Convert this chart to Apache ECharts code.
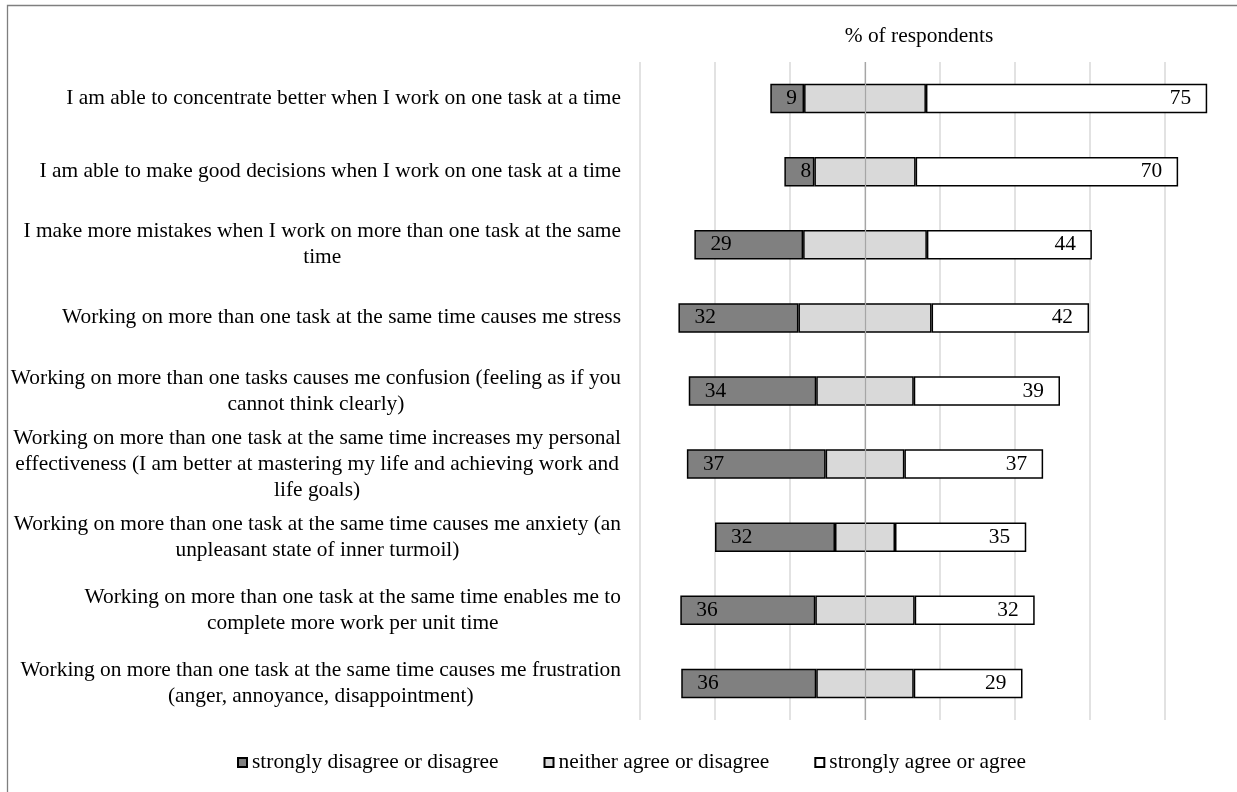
<!DOCTYPE html>
<html>
<head>
<meta charset="utf-8">
<script src="https://cdn.jsdelivr.net/npm/echarts@6/dist/echarts.min.js"></script>
<style>
html,body{margin:0;padding:0;background:#fff;}
#chart{width:1237px;height:792px;}
</style>
</head>
<body>
<div id="chart"></div>
<script>
const categories = [
  "I am able to concentrate better when I work on one task at a time",
  "I am able to make good decisions when I work on one task at a time",
  "I make more mistakes when I work on more than one task at the same\ntime",
  "Working on more than one task at the same time causes me stress",
  "Working on more than one tasks causes me confusion (feeling as if you\ncannot think clearly)",
  "Working on more than one task at the same time increases my personal\neffectiveness (I am better at mastering my life and achieving work and\nlife goals)",
  "Working on more than one task at the same time causes me anxiety (an\nunpleasant state of inner turmoil)",
  "Working on more than one task at the same time enables me to\ncomplete more work per unit time",
  "Working on more than one task at the same time causes me frustration\n(anger, annoyance, disappointment)"
];
const disagree = [9, 8, 29, 32, 34, 37, 32, 36, 36];
const neutral = [32.5, 27, 33, 35.5, 26, 21, 16, 26.5, 26];
const agree = [75, 70, 44, 42, 39, 37, 35, 32, 29];
const seriesNames = ["strongly disagree or disagree", "neither agree or disagree", "strongly agree or agree"];
const axisTitle = "% of respondents";

const FONT = "'Liberation Serif', 'Times New Roman', serif";
const FS = 21.4;

// invisible offset so that the neutral segment is centred on zero
const offset = disagree.map((d, i) => -(d + neutral[i] / 2));

const chart = echarts.init(document.getElementById('chart'));
const barW = 29.5;
const border = { borderColor: '#000', borderWidth: 1.5 };

chart.setOption({
  backgroundColor: '#fff',
  animation: false,
  textStyle: { fontFamily: FONT, color: '#000' },
  title: {
    text: axisTitle,
    left: 919,
    top: 26,
    textAlign: 'center',
    padding: 0,
    textStyle: { fontFamily: FONT, fontSize: FS, fontWeight: 'normal', color: '#000' }
  },
  graphic: [{
    type: 'rect',
    silent: true,
    shape: { x: 7.5, y: 5.5, width: 1400, height: 1000 },
    style: { fill: 'none', stroke: '#7f7f7f', lineWidth: 1.3 }
  }],
  legend: {
    data: seriesNames,
    left: 237,
    top: 752,
    padding: 0,
    itemWidth: 9,
    itemHeight: 9,
    itemGap: 45,
    icon: 'rect',
    textStyle: { fontFamily: FONT, fontSize: FS, color: '#000' }
  },
  grid: { left: 640, right: 72, top: 62, bottom: 72, containLabel: false },
  xAxis: {
    type: 'value',
    min: -60,
    max: 80,
    interval: 20,
    axisLine: { show: false },
    axisTick: { show: false },
    axisLabel: { show: false },
    splitLine: { show: true, lineStyle: { color: '#d9d9d9', width: 1.5 } }
  },
  yAxis: {
    type: 'category',
    data: categories,
    inverse: true,
    axisLine: { show: false },
    axisTick: { show: false },
    splitLine: { show: false },
    axisLabel: {
      margin: 19,
      align: 'right',
      formatter: function (v) {
        return v.split('\n').map(l => '{c|' + l + '}').join('\n');
      },
      rich: {
        c: { align: 'center', fontFamily: FONT, fontSize: FS, lineHeight: 26, color: '#000' }
      }
    }
  },
  series: [
    {
      name: 'offset', type: 'bar', stack: 'total', stackStrategy: 'all', clip: false,
      data: offset, barWidth: barW, silent: true,
      itemStyle: { color: 'rgba(0,0,0,0)', borderWidth: 0 },
      emphasis: { disabled: true }
    },
    {
      name: seriesNames[0], type: 'bar', stack: 'total', stackStrategy: 'all', clip: false,
      data: disagree, barWidth: barW,
      itemStyle: Object.assign({ color: '#808080' }, border),
      label: { show: true, position: 'insideLeft', distance: 16, fontFamily: FONT, fontSize: FS, color: '#000' }
    },
    {
      name: seriesNames[1], type: 'bar', stack: 'total', stackStrategy: 'all', clip: false,
      data: neutral, barWidth: barW,
      itemStyle: Object.assign({ color: '#d9d9d9' }, border)
    },
    {
      name: seriesNames[2], type: 'bar', stack: 'total', stackStrategy: 'all', clip: false,
      data: agree, barWidth: barW,
      itemStyle: Object.assign({ color: '#ffffff' }, border),
      label: { show: true, position: 'insideRight', distance: 16, fontFamily: FONT, fontSize: FS, color: '#000' },
      markLine: {
        silent: true,
        symbol: 'none',
        animation: false,
        label: { show: false },
        lineStyle: { color: '#a6a6a6', width: 1.2, type: 'solid' },
        data: [{ xAxis: 0 }]
      }
    }
  ]
});
</script>
</body>
</html>
